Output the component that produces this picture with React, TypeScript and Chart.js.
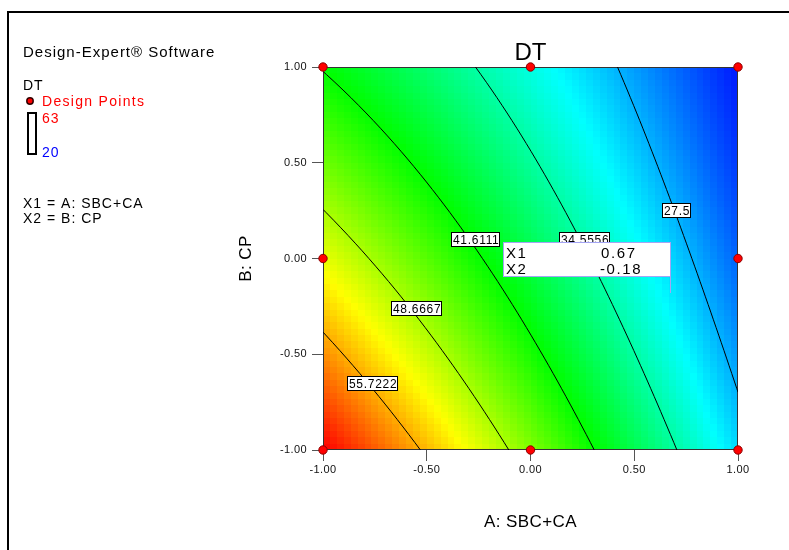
import React, { useEffect, useRef } from "react";
import { Chart, registerables } from "chart.js";

Chart.register(...registerables);

const FONT = "Arial, 'Liberation Sans', Helvetica, sans-serif";

// ---- chart text ----
const chartTitle = "DT";
const xAxisTitle = "A: SBC+CA";
const yAxisTitle = "B: CP";
const axisTicks = [-1, -0.5, 0, 0.5, 1];

// ---- response-surface model (coded factors) ----
const modelTerms = ["Intercept", "A", "B", "AB", "A^2", "B^2"];
const modelCoefficients = [38.5, -13.6, -7.5, 3.4, -0.7, 0.9];

// colour-bar range of the response
const responseLow = 20;
const responseHigh = 63;

// contour levels and where their labels sit (coded units)
const contourLevels = [27.5, 34.5556, 41.6111, 48.6667, 55.7222];
const contourLabelA = [0.706, 0.258, -0.264, -0.548, -0.761];
const contourLabelB = [0.249, 0.097, 0.097, -0.26, -0.652];

// design points (coded units)
const designPointA = [-1, 0, 1, -1, 0, 1, -1, 0, 1];
const designPointB = [1, 1, 1, 0, 0, 0, -1, -1, -1];

// crosshair read-out
const readoutX1 = 0.67;
const readoutX2 = -0.18;

// side panel
const softwareName = "Design-Expert® Software";
const responseName = "DT";
const designPointsLabel = "Design Points";
const factorLines = ["X1 = A: SBC+CA", "X2 = B: CP"];

const colorStops = [
  [0, 0, 255],
  [0, 255, 255],
  [0, 255, 0],
  [255, 255, 0],
  [255, 0, 0],
];

function predict(a: number, b: number) {
  const [c0, cA, cB, cAB, cAA, cBB] = modelCoefficients;
  return c0 + cA * a + cB * b + cAB * a * b + cAA * a * a + cBB * b * b;
}

function responseColor(v: number) {
  let t = (v - responseLow) / (responseHigh - responseLow);
  t = Math.max(0, Math.min(1, t));
  const n = colorStops.length - 1;
  const seg = Math.min(n - 1, Math.floor(t * n));
  const f = t * n - seg;
  const c0 = colorStops[seg];
  const c1 = colorStops[seg + 1];
  const r = Math.round(c0[0] + (c1[0] - c0[0]) * f);
  const g = Math.round(c0[1] + (c1[1] - c0[1]) * f);
  const bl = Math.round(c0[2] + (c1[2] - c0[2]) * f);
  return `rgb(${r},${g},${bl})`;
}

function bisect(fn: (v: number) => number, lo: number, hi: number) {
  let flo = fn(lo);
  for (let k = 0; k < 50; k++) {
    const mid = (lo + hi) / 2;
    const fm = fn(mid);
    if (fm > 0 === flo > 0) {
      lo = mid;
      flo = fm;
    } else hi = mid;
  }
  return (lo + hi) / 2;
}

function contourPoints(level: number) {
  const pts: { x: number; y: number }[] = [];
  const steps = 50;
  for (let i = 0; i <= steps; i++) {
    const b = 1 - (2 * i) / steps;
    const g = (a: number) => predict(a, b) - level;
    if (g(-1) >= 0 && g(1) <= 0) pts.push({ x: bisect(g, -1, 1), y: b });
  }
  const left = (b: number) => predict(-1, b) - level;
  if (left(1) < 0 && left(-1) > 0) pts.push({ x: -1, y: bisect(left, -1, 1) });
  const right = (b: number) => predict(1, b) - level;
  if (right(1) < 0 && right(-1) > 0) pts.push({ x: 1, y: bisect(right, -1, 1) });
  pts.sort((p, q) => q.y - p.y);
  return pts;
}

const surfacePlugin = {
  id: "surface",
  beforeDraw(chart: any) {
    chart.ctx.letterSpacing = "0.4px";
  },
  beforeDatasetsDraw(chart: any) {
    const { ctx, chartArea, scales } = chart;
    const xs = scales.x;
    const ys = scales.y;
    const n = 60;
    ctx.save();
    for (let i = 0; i < n; i++) {
      const a0 = -1 + (2 * i) / n;
      const a1 = -1 + (2 * (i + 1)) / n;
      const px0 = Math.round(xs.getPixelForValue(a0));
      const px1 = Math.round(xs.getPixelForValue(a1));
      for (let j = 0; j < n; j++) {
        const b0 = -1 + (2 * j) / n;
        const b1 = -1 + (2 * (j + 1)) / n;
        const py0 = Math.round(ys.getPixelForValue(b1));
        const py1 = Math.round(ys.getPixelForValue(b0));
        ctx.fillStyle = responseColor(predict((a0 + a1) / 2, (b0 + b1) / 2));
        ctx.fillRect(px0, py0, px1 - px0, py1 - py0);
      }
    }
    ctx.strokeStyle = "#333";
    ctx.lineWidth = 1;
    ctx.strokeRect(
      Math.round(chartArea.left) + 0.5,
      Math.round(chartArea.top) + 0.5,
      Math.round(chartArea.right - chartArea.left) - 1,
      Math.round(chartArea.bottom - chartArea.top) - 1
    );
    ctx.restore();
  },
  afterDatasetsDraw(chart: any) {
    const { ctx, scales } = chart;
    const xs = scales.x;
    const ys = scales.y;
    ctx.save();
    // contour labels
    ctx.font = `12px ${FONT}`;
    ctx.letterSpacing = "0.7px";
    ctx.textAlign = "left";
    ctx.textBaseline = "alphabetic";
    contourLevels.forEach((lvl, i) => {
      const cx = xs.getPixelForValue(contourLabelA[i]);
      const cy = ys.getPixelForValue(contourLabelB[i]);
      const text = String(lvl);
      const w = ctx.measureText(text).width;
      const bw = Math.round(w + 3);
      const bh = 15;
      const left = Math.round(cx - bw / 2);
      const top = Math.round(cy - bh / 2);
      ctx.fillStyle = "#fff";
      ctx.fillRect(left, top, bw, bh);
      ctx.strokeStyle = "#000";
      ctx.lineWidth = 1;
      ctx.strokeRect(left + 0.5, top + 0.5, bw - 1, bh - 1);
      ctx.fillStyle = "#000";
      ctx.fillText(text, left + 2, top + 12);
    });
    // read-out box
    const ax = Math.round(xs.getPixelForValue(readoutX1));
    const ay = Math.round(ys.getPixelForValue(readoutX2));
    const bw = 168;
    const bh = 35;
    const bRight = ax + 1;
    const bBottom = ay - 16;
    const bLeft = bRight - bw;
    const bTop = bBottom - bh;
    ctx.fillStyle = "#fff";
    ctx.fillRect(bLeft, bTop, bw, bh);
    ctx.strokeStyle = "#a4a4f4";
    ctx.lineWidth = 1;
    ctx.strokeRect(bLeft + 0.5, bTop + 0.5, bw - 1, bh - 1);
    ctx.beginPath();
    ctx.moveTo(ax + 0.5, bBottom);
    ctx.lineTo(ax + 0.5, ay);
    ctx.stroke();
    ctx.fillStyle = "#000";
    ctx.font = `15px ${FONT}`;
    ctx.letterSpacing = "1.6px";
    ctx.fillText("X1", bLeft + 3, bTop + 16);
    ctx.fillText(readoutX1.toFixed(2), bLeft + 98, bTop + 16);
    ctx.fillText("X2", bLeft + 3, bTop + 32);
    ctx.fillText(readoutX2.toFixed(2), bLeft + 97, bTop + 32);
    ctx.restore();
  },
  afterDraw(chart: any) {
    const { ctx, chartArea } = chart;
    ctx.save();
    ctx.letterSpacing = "0px";
    // outer frame
    ctx.fillStyle = "#000";
    ctx.fillRect(7, 11, 2, 539);
    ctx.fillRect(7, 11, 782, 2);
    // title
    ctx.font = `24px ${FONT}`;
    ctx.textAlign = "center";
    ctx.textBaseline = "alphabetic";
    ctx.fillText(chartTitle, (chartArea.left + chartArea.right) / 2, 60);
    // side panel
    ctx.textAlign = "left";
    ctx.letterSpacing = "1px";
    ctx.font = `15px ${FONT}`;
    ctx.fillText(softwareName, 23, 57);
    ctx.font = `14px ${FONT}`;
    ctx.fillText(responseName, 23, 90);
    ctx.beginPath();
    ctx.arc(30, 101, 3.2, 0, Math.PI * 2);
    ctx.fillStyle = "#ff0000";
    ctx.fill();
    ctx.strokeStyle = "#300";
    ctx.lineWidth = 1.5;
    ctx.stroke();
    ctx.letterSpacing = "1.3px";
    ctx.fillStyle = "#ff0000";
    ctx.fillText(designPointsLabel, 42, 106);
    ctx.letterSpacing = "1px";
    ctx.strokeStyle = "#000";
    ctx.lineWidth = 2;
    ctx.strokeRect(28, 113, 8, 41);
    ctx.fillStyle = "#ff0000";
    ctx.fillText(String(responseHigh), 42, 123);
    ctx.fillStyle = "#0000ff";
    ctx.fillText(String(responseLow), 42, 156.5);
    ctx.fillStyle = "#000";
    ctx.fillText(factorLines[0], 23, 207.5);
    ctx.fillText(factorLines[1], 23, 222.5);
    ctx.restore();
  },
};

export default function App() {
  const ref = useRef<HTMLCanvasElement>(null);
  useEffect(() => {
    document.body.style.margin = "0";
    const canvas = ref.current as HTMLCanvasElement;
    const contourDatasets = contourLevels.map((lvl) => ({
      label: `DT = ${lvl}`,
      data: contourPoints(lvl),
      showLine: true,
      pointRadius: 0,
      borderColor: "#000",
      borderWidth: 1,
      tension: 0,
      fill: false,
      order: 1,
    }));
    const designDataset = {
      label: designPointsLabel,
      data: designPointA.map((a, i) => ({ x: a, y: designPointB[i] })),
      pointRadius: 4.2,
      pointBackgroundColor: "#ff0000",
      pointBorderColor: "#8a0000",
      pointBorderWidth: 1,
      showLine: false,
      clip: false,
      order: 0,
    };
    const chart = new Chart(canvas, {
      type: "scatter",
      data: { datasets: [...contourDatasets, designDataset] as any },
      options: {
        responsive: false,
        animation: false,
        devicePixelRatio: 1,
        layout: { padding: { left: 223, right: 51, top: 67, bottom: 0 } },
        plugins: {
          legend: { display: false },
          tooltip: { enabled: false },
          title: { display: false },
        },
        scales: {
          x: {
            type: "linear",
            position: "bottom",
            min: -1,
            max: 1,
            afterBuildTicks: (s: any) => {
              s.ticks = axisTicks.map((v) => ({ value: v }));
            },
            afterFit: (s: any) => {
              s.height = 100;
            },
            ticks: {
              callback: (v: any) => Number(v).toFixed(2),
              font: { family: FONT, size: 11 },
              color: "#111",
              padding: 2,
              maxRotation: 0,
              autoSkip: false,
            },
            grid: { drawOnChartArea: false, drawTicks: true, tickLength: 11, color: "#555" },
            border: { display: false },
            title: {
              display: true,
              text: xAxisTitle,
              font: { family: FONT, size: 17 },
              color: "#000",
              padding: { top: 0, bottom: 17 },
            },
          },
          y: {
            type: "linear",
            position: "left",
            min: -1,
            max: 1,
            afterBuildTicks: (s: any) => {
              s.ticks = axisTicks.map((v) => ({ value: v }));
            },
            afterFit: (s: any) => {
              s.width = 100;
            },
            ticks: {
              callback: (v: any) => Number(v).toFixed(2),
              font: { family: FONT, size: 11 },
              color: "#111",
              padding: 5,
              autoSkip: false,
            },
            grid: { drawOnChartArea: false, drawTicks: true, tickLength: 11, color: "#555" },
            border: { display: false },
            title: {
              display: true,
              text: yAxisTitle,
              font: { family: FONT, size: 17 },
              color: "#000",
              padding: { top: 13, bottom: 0 },
            },
          },
        },
      } as any,
      plugins: [surfacePlugin],
    });
    return () => chart.destroy();
  }, []);
  return <canvas ref={ref} width={789} height={550} style={{ display: "block" }} />;
}
